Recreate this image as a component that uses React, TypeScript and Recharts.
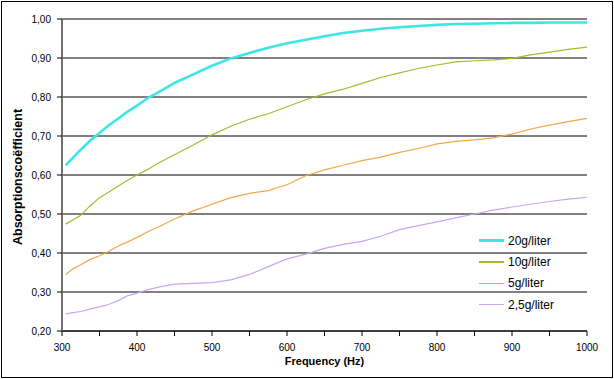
import React from 'react';
import { LineChart, Line, XAxis, YAxis, CartesianGrid, Legend } from 'recharts';

const frequencies = [305, 315, 325, 337, 350, 362, 375, 387, 400, 415, 430, 450, 475, 500, 525, 550, 575, 600, 625, 650, 675, 700, 725, 750, 775, 800, 825, 850, 875, 900, 925, 950, 975, 1000];

const g20 = [0.625, 0.645, 0.665, 0.687, 0.708, 0.727, 0.745, 0.762, 0.778, 0.798, 0.814, 0.836, 0.858, 0.88, 0.899, 0.913, 0.926, 0.938, 0.947, 0.956, 0.964, 0.97, 0.975, 0.979, 0.982, 0.985, 0.987, 0.988, 0.989, 0.99, 0.99, 0.991, 0.991, 0.991];
const g10 = [0.474, 0.485, 0.497, 0.52, 0.542, 0.556, 0.572, 0.586, 0.6, 0.615, 0.632, 0.652, 0.677, 0.703, 0.725, 0.743, 0.757, 0.775, 0.793, 0.808, 0.82, 0.835, 0.85, 0.862, 0.873, 0.882, 0.89, 0.893, 0.895, 0.899, 0.908, 0.915, 0.922, 0.928];
const g5 = [0.345, 0.36, 0.37, 0.383, 0.393, 0.404, 0.418, 0.428, 0.44, 0.455, 0.468, 0.487, 0.508, 0.525, 0.542, 0.553, 0.56, 0.575, 0.598, 0.613, 0.625, 0.637, 0.646, 0.658, 0.668, 0.68, 0.686, 0.69, 0.695, 0.705, 0.718, 0.728, 0.737, 0.745];
const g25 = [0.244, 0.247, 0.25, 0.256, 0.262, 0.268, 0.278, 0.29, 0.297, 0.306, 0.313, 0.32, 0.322, 0.324, 0.331, 0.345, 0.365, 0.385, 0.397, 0.412, 0.422, 0.43, 0.443, 0.46, 0.47, 0.48, 0.49, 0.5, 0.51, 0.518, 0.525, 0.532, 0.538, 0.543];

const xTicks = [300, 350, 400, 450, 500, 550, 600, 650, 700, 750, 800, 850, 900, 950, 1000];
const yTicks = [0.2, 0.3, 0.4, 0.5, 0.6, 0.7, 0.8, 0.9, 1.0];

const series = [
  { key: 'g20', name: '20g/liter', color: '#3ce6e6', width: 2.6 },
  { key: 'g10', name: '10g/liter', color: '#a4bb2e', width: 1.2 },
  { key: 'g5', name: '5g/liter', color: '#f0a848', width: 1.2 },
  { key: 'g25', name: '2,5g/liter', color: '#c7a8f0', width: 1.2 },
];

const data = frequencies.map((f, i) => ({ f, g20: g20[i], g10: g10[i], g5: g5[i], g25: g25[i] }));

const font = '"Liberation Sans", Arial, sans-serif';

const XTick = (props: any) => {
  const { x, y, payload } = props;
  if (payload.value % 100 !== 0) return null;
  return (
    <text x={x} y={y} dy="0.71em" textAnchor="middle" fontSize={10} fontFamily={font} fill="#000">
      {payload.value}
    </text>
  );
};

const LegendBox = () => (
  <div style={{ fontFamily: font, fontSize: 12, color: '#000' }}>
    {series.map((s) => (
      <div key={s.key} style={{ display: 'flex', alignItems: 'center', height: 21.3 }}>
        <div style={{ width: 25, height: s.width, background: s.color, marginRight: 4 }} />
        <span>{s.name}</span>
      </div>
    ))}
  </div>
);

export default function App() {
  return (
    <div style={{ position: 'absolute', left: 0, top: 0, width: 614, height: 379, background: '#fff' }}>
      <div style={{ position: 'absolute', left: 1, top: 1, width: 610, height: 375, border: '1px solid #000' }} />
      <LineChart
        width={614}
        height={379}
        data={data}
        margin={{ top: 19, right: 27, bottom: 18, left: 12 }}
        style={{ position: 'absolute', left: 0, top: 0 }}
      >
        <CartesianGrid vertical={false} stroke="#000" strokeWidth={1} />
        <XAxis
          dataKey="f"
          type="number"
          domain={[300, 1000]}
          ticks={xTicks}
          interval={0}
          height={30}
          tickSize={5}
          tickMargin={8}
          tick={<XTick />}
          axisLine={{ stroke: '#000' }}
          tickLine={{ stroke: '#000' }}
          label={{ value: 'Frequency (Hz)', position: 'insideBottom', offset: 0, dy: 4, fontSize: 11, fontWeight: 'bold', fontFamily: font, fill: '#000' }}
        />
        <YAxis
          type="number"
          domain={[0.2, 1.0]}
          ticks={yTicks}
          interval={0}
          width={50}
          tickSize={5}
          tickMargin={6}
          tickFormatter={(v: number) => v.toFixed(2).replace('.', ',')}
          tick={{ fontSize: 10, fontFamily: font, fill: '#000' }}
          axisLine={{ stroke: '#707070', strokeWidth: 2 }}
          tickLine={{ stroke: '#000' }}
          label={{ value: 'Absorptionscoëfficient', angle: -90, position: 'insideLeft', dx: 1, dy: 70, fontSize: 12.5, fontWeight: 'bold', fontFamily: font, fill: '#000' }}
        />
        <Legend
          layout="vertical"
          align="center"
          verticalAlign="middle"
          content={<LegendBox />}
          wrapperStyle={{ left: 479, top: 230, width: 110 }}
        />
        {series.map((s) => (
          <Line
            key={s.key}
            type="linear"
            dataKey={s.key}
            name={s.name}
            stroke={s.color}
            strokeWidth={s.width}
            dot={false}
            activeDot={false}
            isAnimationActive={false}
          />
        ))}
      </LineChart>
    </div>
  );
}
